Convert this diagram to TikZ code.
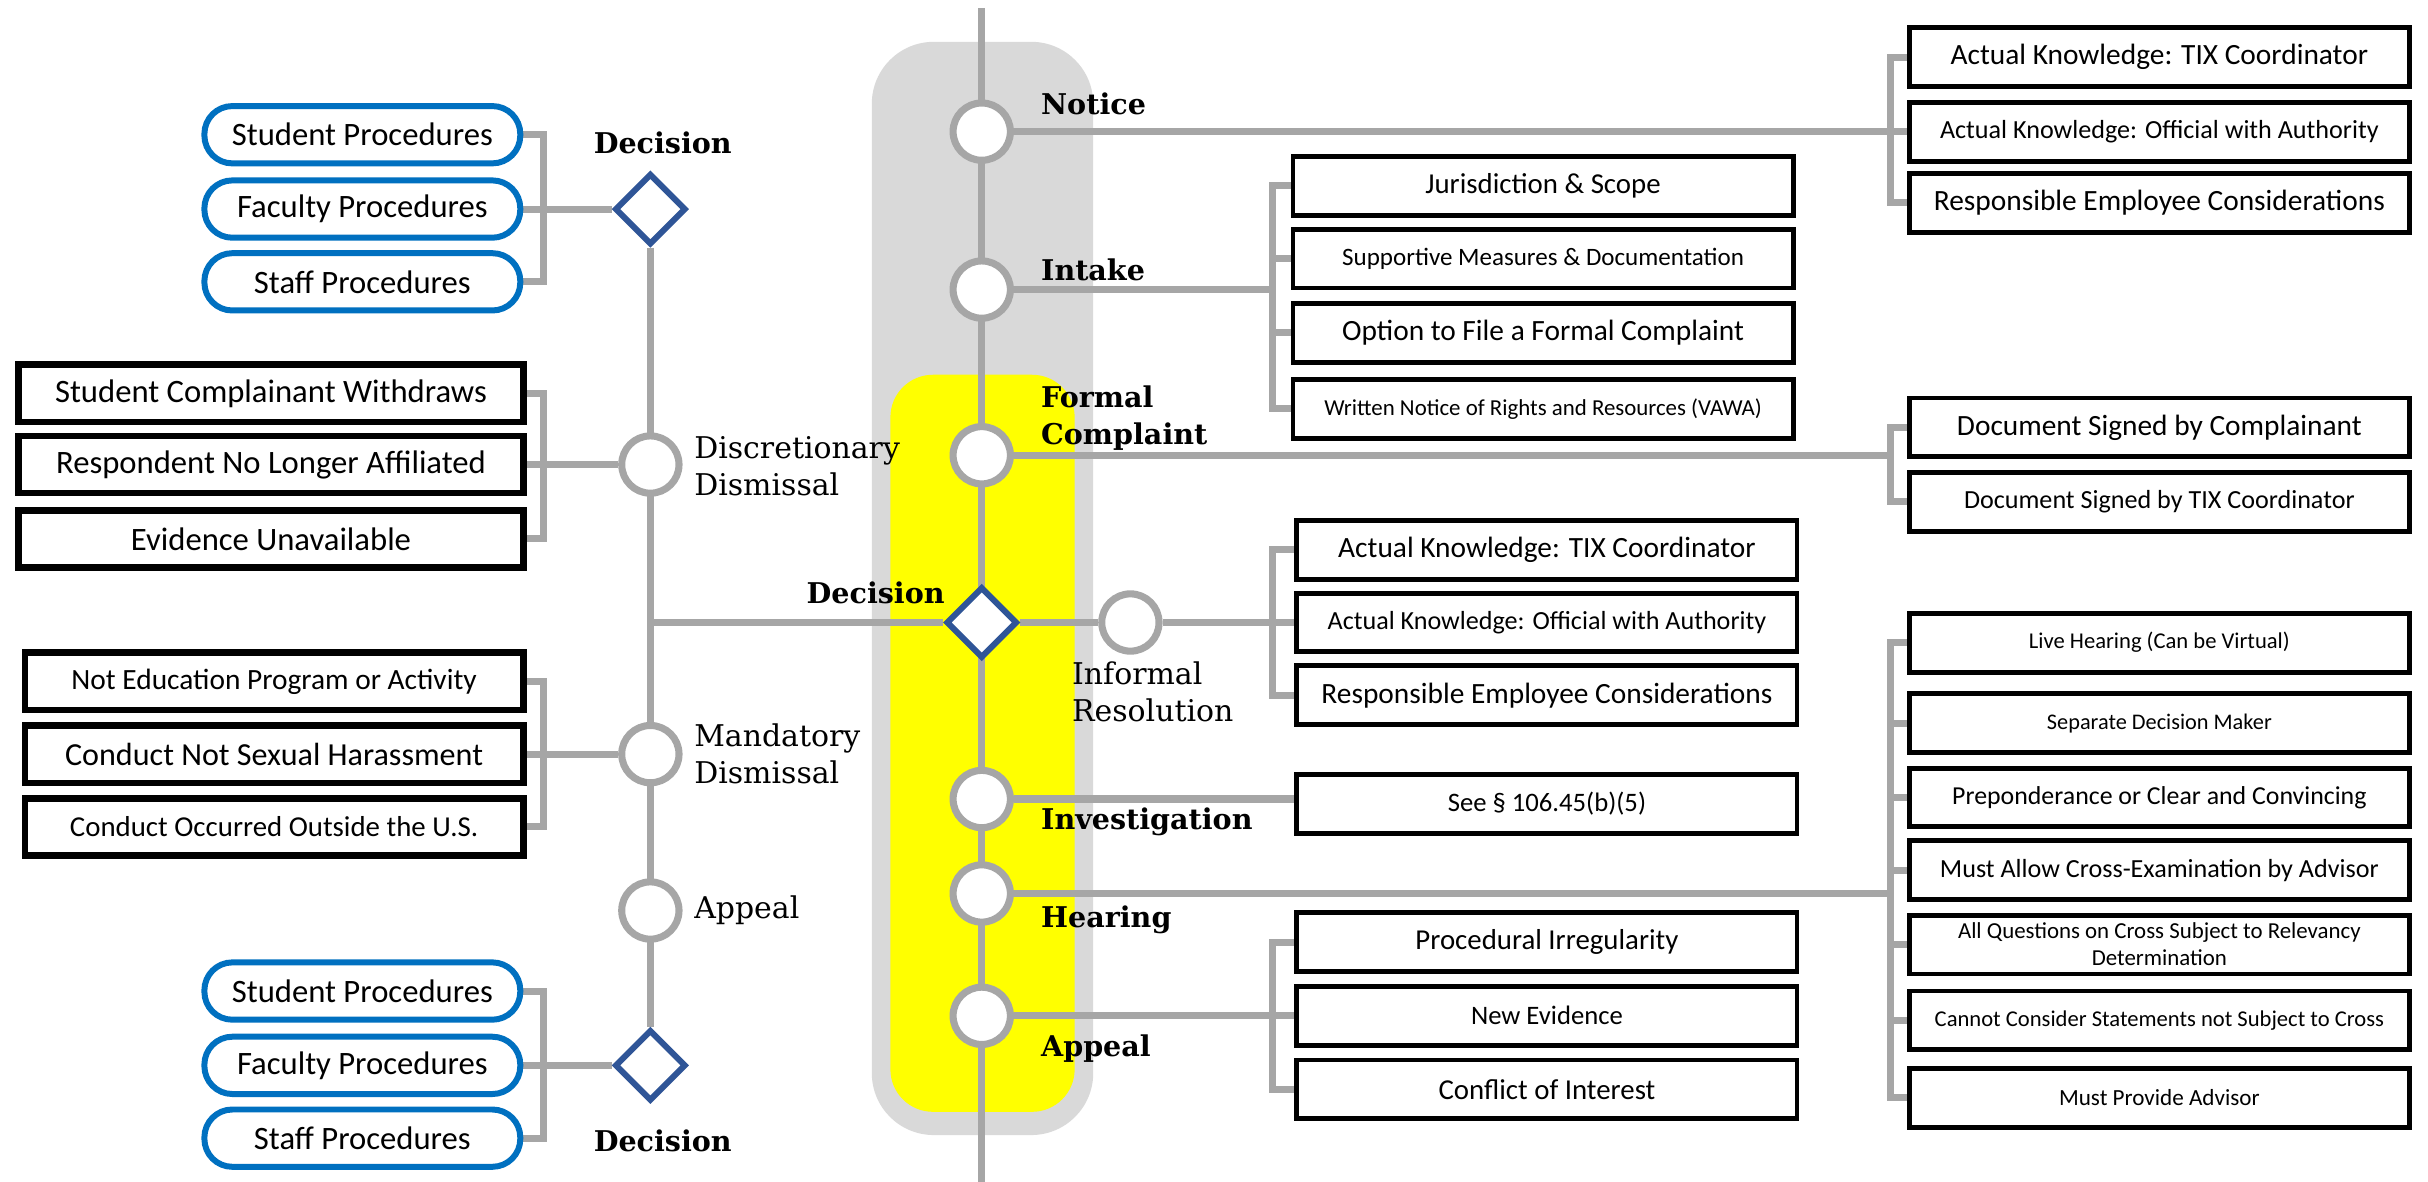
\documentclass[tikz,border=0pt]{standalone}
\usepackage{fontspec}
\setmainfont{Carlito}
\newfontfamily\stagefont{DejaVu Serif}
\usepackage{tikz}
\usetikzlibrary{shapes.geometric, backgrounds}
\definecolor{railgray}{HTML}{A6A6A6}
\definecolor{bandgray}{HTML}{D9D9D9}
\definecolor{bandyellow}{HTML}{FFFF00}
\definecolor{procblue}{HTML}{0070C0}
\definecolor{gateblue}{HTML}{2F5597}
\newcommand{\boxfs}[2]{\fontsize{#1}{#2}\selectfont}
\tikzset{
    rail/.style={draw=railgray, line width=2.6pt},
    station/.style={circle, draw=railgray, line width=2.6pt, fill=white, minimum size=0.74cm, inner sep=0pt},
    junction/.style={diamond, draw=gateblue, line width=2.2pt, fill=white, minimum size=0.92cm, inner sep=0pt},
    stagetag/.style={font=\stagefont\bfseries\boxfs{10.5}{13.6}, align=left, inner sep=0pt},
    sidetag/.style={font=\stagefont\boxfs{11}{13.6}, align=left, inner sep=0pt}
}

\begin{document}
\begin{tikzpicture}[
    procbox/.style={rectangle, rounded corners=0.36cm, draw=procblue, line width=2.2pt, fill=white, minimum width=4.08cm, minimum height=0.74cm, inner sep=0pt, font=\boxfs{12}{14}},
    casebox/.style={rectangle, draw=black, line width=2.4pt, fill=white, minimum height=0.74cm, inner sep=0pt, font=\boxfs{12}{14}},
    itembox/.style={rectangle, draw=black, line width=1.8pt, fill=white, minimum width=6.46cm, minimum height=0.76cm, inner sep=0pt, align=center, font=\boxfs{10.8}{12.5}}
]
    \useasboundingbox (0,0) rectangle (31.36,-15.26);

    % Main spine: stages of the process
    \coordinate (spinetop) at (12.68,-0.10);
    \coordinate (spinebot) at (12.68,-15.26);
    \node[station] (notice) at (12.68,-1.70) {};
    \node[station] (intake) at (12.68,-3.74) {};
    \node[station] (formal) at (12.68,-5.88) {};
    \node[junction] (decide) at (12.68,-8.04) {};
    \node[station] (informal) at (14.60,-8.04) {};
    \node[station] (invest) at (12.68,-10.32) {};
    \node[station] (hearing) at (12.68,-11.54) {};
    \node[station] (appeal) at (12.68,-13.12) {};

    \node[stagetag, anchor=west] (noticetag) at (13.44,-1.34) {Notice};
    \node[stagetag, anchor=west] (intaketag) at (13.44,-3.48) {Intake};
    \node[stagetag, anchor=west] (formaltag) at (13.44,-5.40) {Formal\\Complaint};
    \node[stagetag] (decidetag) at (11.31,-7.66) {Decision};
    \node[sidetag, anchor=west] (informaltag) at (13.84,-8.94) {Informal\\Resolution};
    \node[stagetag, anchor=west] (investtag) at (13.44,-10.62) {Investigation};
    \node[stagetag, anchor=west] (hearingtag) at (13.44,-11.88) {Hearing};
    \node[stagetag, anchor=west] (appealtag) at (13.44,-13.54) {Appeal};

    % Side branch: dismissal and appeal
    \coordinate (branch) at (8.40,-8.04);
    \node[junction] (topgate) at (8.40,-2.70) {};
    \node[station] (discdis) at (8.40,-6.00) {};
    \node[station] (mandis) at (8.40,-9.74) {};
    \node[station] (sideappeal) at (8.40,-11.76) {};
    \node[junction] (botgate) at (8.40,-13.76) {};

    \node[stagetag] (topgatetag) at (8.56,-1.84) {Decision};
    \node[sidetag, anchor=west] (disctag) at (8.96,-6.02) {Discretionary\\Dismissal};
    \node[sidetag, anchor=west] (mandtag) at (8.96,-9.74) {Mandatory\\Dismissal};
    \node[sidetag, anchor=west] (sideappealtag) at (8.96,-11.76) {Appeal};
    \node[stagetag] (botgatetag) at (8.56,-14.74) {Decision};

    % Left column: procedures and dismissal grounds
    \coordinate (lbr) at (7.02,0);
    \node[procbox] (sp1) at (4.68,-1.74) {Student Procedures};
    \node[procbox] (sp2) at (4.68,-2.70) {Faculty Procedures};
    \node[procbox] (sp3) at (4.68,-3.64) {Staff Procedures};

    \node[casebox, minimum width=6.52cm] (dd1) at (3.50,-5.08) {Student Complainant Withdraws};
    \node[casebox, minimum width=6.52cm] (dd2) at (3.50,-6.00) {Respondent No Longer Affiliated};
    \node[casebox, minimum width=6.52cm] (dd3) at (3.50,-6.96) {Evidence Unavailable};

    \node[casebox, minimum width=6.44cm, font=\boxfs{10.8}{13}] (md1) at (3.54,-8.80) {Not Education Program or Activity};
    \node[casebox, minimum width=6.44cm, font=\boxfs{11.8}{13}] (md2) at (3.54,-9.74) {Conduct Not Sexual Harassment};
    \node[casebox, minimum width=6.44cm, font=\boxfs{10.6}{13}] (md3) at (3.54,-10.68) {Conduct Occurred Outside the U.S.};

    \node[procbox] (bp1) at (4.68,-12.80) {Student Procedures};
    \node[procbox] (bp2) at (4.68,-13.76) {Faculty Procedures};
    \node[procbox] (bp3) at (4.68,-14.70) {Staff Procedures};

    % Middle column: intake, informal resolution, investigation, appeal
    \coordinate (mbr) at (16.44,0);
    \node[itembox, font=\boxfs{10.6}{12}] (js1) at (19.93,-2.40) {Jurisdiction \& Scope};
    \node[itembox, font=\boxfs{9.2}{11}] (js2) at (19.93,-3.34) {Supportive Measures \& Documentation};
    \node[itembox] (js3) at (19.93,-4.30) {Option to File a Formal Complaint};
    \node[itembox, font=\boxfs{8.4}{10}] (js4) at (19.93,-5.28) {Written Notice of Rights and Resources (VAWA)};

    \node[itembox] (ir1) at (19.98,-7.10) {Actual Knowledge: TIX Coordinator};
    \node[itembox, font=\boxfs{9.6}{11}] (ir2) at (19.98,-8.04) {Actual Knowledge: Official with Authority};
    \node[itembox] (ir3) at (19.98,-8.98) {Responsible Employee Considerations};

    \node[itembox, font=\boxfs{9.8}{11}] (see) at (19.98,-10.38) {See § 106.45(b)(5)};

    \node[itembox, font=\boxfs{10.6}{12}] (ap1) at (19.98,-12.17) {Procedural Irregularity};
    \node[itembox, font=\boxfs{9.8}{11}] (ap2) at (19.98,-13.12) {New Evidence};
    \node[itembox, font=\boxfs{10.6}{12}] (ap3) at (19.98,-14.07) {Conflict of Interest};

    % Right column: notice, formal complaint, hearing
    \coordinate (rbr) at (24.42,0);
    \node[itembox] (nt1) at (27.89,-0.74) {Actual Knowledge: TIX Coordinator};
    \node[itembox, font=\boxfs{9.6}{11}] (nt2) at (27.89,-1.70) {Actual Knowledge: Official with Authority};
    \node[itembox] (nt3) at (27.89,-2.62) {Responsible Employee Considerations};

    \node[itembox] (fc1) at (27.89,-5.52) {Document Signed by Complainant};
    \node[itembox, font=\boxfs{9.6}{11}] (fc2) at (27.89,-6.48) {Document Signed by TIX Coordinator};

    \node[itembox, font=\boxfs{8.3}{10}] (hr1) at (27.89,-8.30) {Live Hearing (Can be Virtual)};
    \node[itembox, font=\boxfs{8.2}{10}] (hr2) at (27.89,-9.34) {Separate Decision Maker};
    \node[itembox, font=\boxfs{9.5}{11}] (hr3) at (27.89,-10.30) {Preponderance or Clear and Convincing};
    \node[itembox, font=\boxfs{9.6}{11}] (hr4) at (27.89,-11.24) {Must Allow Cross-Examination by Advisor};
    \node[itembox, font=\boxfs{8.4}{9.9}] (hr5) at (27.89,-12.20) {All Questions on Cross Subject to Relevancy\\Determination};
    \node[itembox, font=\boxfs{8.3}{10}] (hr6) at (27.89,-13.18) {Cannot Consider Statements not Subject to Cross};
    \node[itembox, font=\boxfs{8.5}{10}] (hr7) at (27.89,-14.18) {Must Provide Advisor};

    % Background band and connectors, behind the nodes
    \begin{scope}[on background layer]
        \fill[bandgray, rounded corners=0.8cm] (11.26,-0.54) rectangle (14.12,-14.66);
        \fill[bandyellow, rounded corners=0.55cm] (11.50,-4.84) rectangle (13.88,-14.36);

        \draw[rail] (spinetop) -- (spinebot);
        \draw[rail] (topgate) -- (botgate);
        \draw[rail] (branch) -- (decide) -- (informal);

        % left brackets
        \draw[rail] (sp1.east) -| (lbr |- sp3.east) -- (sp3.east);
        \draw[rail] (sp2.east) -- (topgate);
        \draw[rail] (dd1.east) -| (lbr |- dd3.east) -- (dd3.east);
        \draw[rail] (dd2.east) -- (discdis);
        \draw[rail] (md1.east) -| (lbr |- md3.east) -- (md3.east);
        \draw[rail] (md2.east) -- (mandis);
        \draw[rail] (bp1.east) -| (lbr |- bp3.east) -- (bp3.east);
        \draw[rail] (bp2.east) -- (botgate);

        % middle brackets
        \draw[rail] (js1.west) -| (mbr |- js4.west) -- (js4.west);
        \foreach \n in {js2,js3}
            \draw[rail] (\n.west) -- (\n.west -| mbr);
        \draw[rail] (intake) -- (intake -| mbr);
        \draw[rail] (ir1.west) -| (mbr |- ir3.west) -- (ir3.west);
        \draw[rail] (informal) -- (ir2);
        \draw[rail] (invest) -- (invest -| see.west);
        \draw[rail] (ap1.west) -| (mbr |- ap3.west) -- (ap3.west);
        \draw[rail] (appeal) -- (ap2);

        % right brackets
        \draw[rail] (nt1.west) -| (rbr |- nt3.west) -- (nt3.west);
        \draw[rail] (notice) -- (nt2);
        \draw[rail] (fc1.west) -| (rbr |- fc2.west) -- (fc2.west);
        \draw[rail] (formal) -- (formal -| rbr);
        \draw[rail] (hr1.west) -| (rbr |- hr7.west) -- (hr7.west);
        \foreach \n in {hr2,hr3,hr4,hr5,hr6}
            \draw[rail] (\n.west) -- (\n.west -| rbr);
        \draw[rail] (hearing) -- (hearing -| rbr);
    \end{scope}
\end{tikzpicture}
\end{document}
